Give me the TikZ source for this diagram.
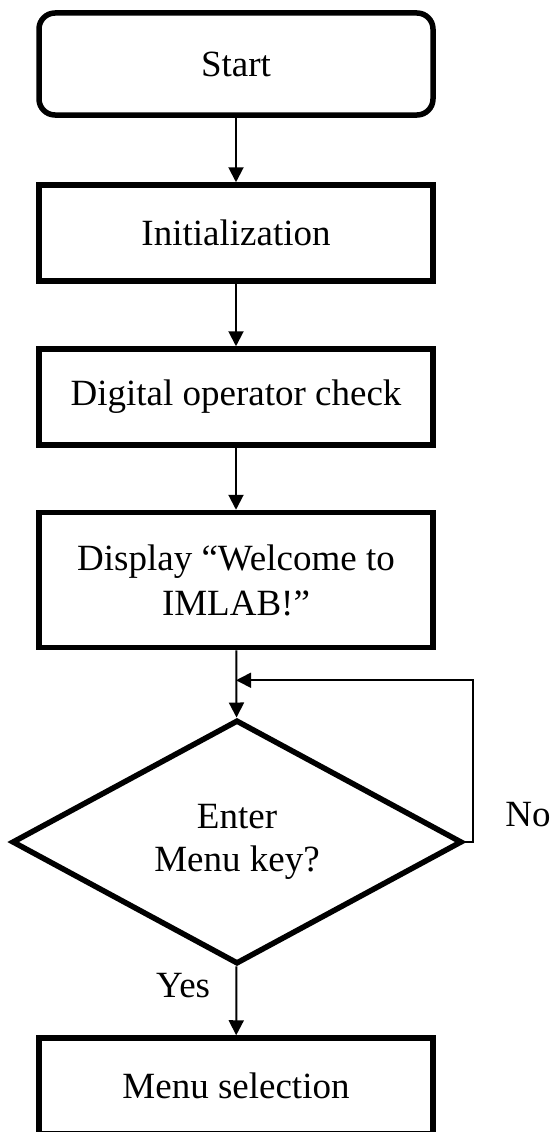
\documentclass[tikz,border=0pt]{standalone}
\usepackage{fontspec}
\setmainfont{Liberation Serif}
\usetikzlibrary{arrows.meta}
\usetikzlibrary{positioning}
\usetikzlibrary{shapes.geometric}

\begin{document}
\begin{tikzpicture}[>={Triangle[length=15pt,width=15pt]}, x=1pt, y=-1pt]
  \tikzset{box/.style={rectangle, draw, line width=5.5pt, minimum width=394pt, minimum height=96pt, inner sep=0pt, align=center, font=\fontsize{37}{45}\selectfont},
    decision/.style={diamond, draw, line width=5.5pt, minimum width=450pt, minimum height=244pt, inner sep=0pt, align=center, font=\fontsize{37}{43}\selectfont},
    lbl/.style={font=\fontsize{37}{45}\selectfont},
    flow/.style={->, line width=2pt},
    back/.style={->, line width=1.6pt}}
  \useasboundingbox (0,0) rectangle (553,1132);

  \node[box, rounded corners=16pt, minimum height=102pt] (start) at (236,64) {Start};
  \node[box] (init)  at (236,233)  {Initialization};
  \node[box] (check) at (236,397)  {Digital operator check};
  \node[box, minimum height=135pt] (disp) at (236,580) {Display “Welcome to\\IMLAB!”};
  \node[decision] (dec) at (237,842) {Enter\\Menu key?};
  \node[box] (menu)  at (236,1086) {Menu selection};

  %--- main flow ---
  \draw[flow] (start) -- (init);
  \draw[flow] (init) -- (check);
  \draw[flow] (check) -- (disp);
  \draw[flow] (disp) -- (dec);
  \draw[flow] (dec) -- node[lbl, pos=0.28, left=22pt] {Yes} (menu);

  %--- back loop when no key ---
  \coordinate (join) at ([yshift=-30pt]disp.south);
  \draw[back] (dec.east) -- ++(8,0) |- (join);
  \node[lbl, anchor=west] (no) at ([xshift=37pt, yshift=27pt]dec.east) {No};
\end{tikzpicture}
\end{document}
